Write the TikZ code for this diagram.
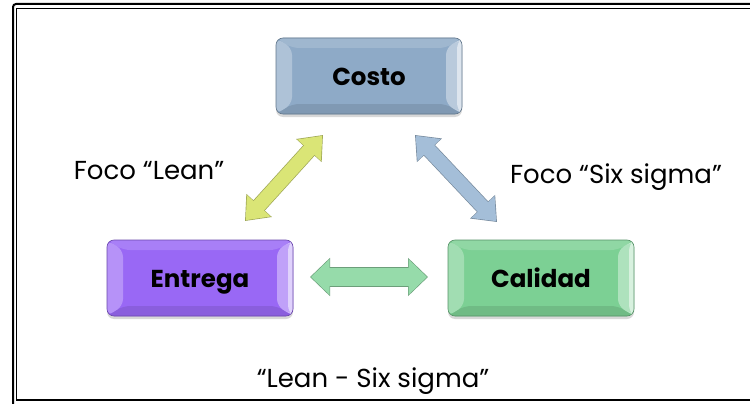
\documentclass[tikz,border=0pt]{standalone}
\usepackage{fontspec}
\setmainfont{Poppins}
\usetikzlibrary{arrows.meta,shadows,calc}

\definecolor{costoC}{RGB}{142,170,199}
\definecolor{entregaC}{RGB}{153,104,245}
\definecolor{calidadC}{RGB}{124,208,148}
\definecolor{yellowA}{RGB}{218,229,118}
\definecolor{blueA}{RGB}{164,190,216}
\definecolor{greenA}{RGB}{150,219,170}

\tikzset{
  bevelbox/.style={
    rounded corners=7pt, minimum width=186pt, minimum height=76pt,
    fill=#1, draw=#1!70!black, line width=0.6pt,
    font=\bfseries\fontsize{24.5}{28}\selectfont,
    text height=19pt, text depth=0pt,
    drop shadow={shadow xshift=0pt, shadow yshift=-3pt, opacity=0.3},
    path picture={
      \coordinate (nw) at (path picture bounding box.north west);
      \coordinate (ne) at (path picture bounding box.north east);
      \coordinate (sw) at (path picture bounding box.south west);
      \coordinate (se) at (path picture bounding box.south east);
      % top bevel
      \fill[#1!85!white] (nw) -- (ne) -- ($(ne)+(-16pt,-10pt)$) -- ($(nw)+(16pt,-10pt)$) -- cycle;
      % bottom bevel
      \fill[#1!90!black] (sw) -- (se) -- ($(se)+(-16pt,10pt)$) -- ($(sw)+(16pt,10pt)$) -- cycle;
      % left bevel
      \fill[#1!72!white] (nw) -- (sw) -- ($(sw)+(16pt,10pt)$) -- ($(nw)+(16pt,-10pt)$) -- cycle;
      % right bevel, with a bright highlight at the outer edge
      \fill[#1!62!white] (ne) -- (se) -- ($(se)+(-16pt,10pt)$) -- ($(ne)+(-16pt,-10pt)$) -- cycle;
      \fill[#1!30!white] (ne) -- (se) -- ($(se)+(-5pt,4pt)$) -- ($(ne)+(-5pt,-4pt)$) -- cycle;
    }},
  label text/.style={font=\fontsize{26}{30}\selectfont, inner sep=0pt},
  darrow edge/.style={draw=#1!72!black, line width=15.4pt,
    {Triangle[width=33pt,length=21pt]}-{Triangle[width=33pt,length=21pt]}},
  darrow fill/.style={draw=#1, line width=14pt, shorten <=1pt, shorten >=1pt,
    {Triangle[width=30.5pt,length=19.5pt]}-{Triangle[width=30.5pt,length=19.5pt]}},
  harrow edge/.style={draw=#1!72!black, line width=19.4pt,
    {Triangle[width=37pt,length=20pt]}-{Triangle[width=37pt,length=20pt]}},
  harrow fill/.style={draw=#1, line width=18pt, shorten <=1pt, shorten >=1pt,
    {Triangle[width=34.5pt,length=18.5pt]}-{Triangle[width=34.5pt,length=18.5pt]}},
  frame outer/.style={draw=black, line width=2pt, rounded corners=3pt},
  frame inner/.style={draw=black, line width=1.5pt},
}

\begin{document}
\begin{tikzpicture}[x=1pt,y=-1pt]
  \useasboundingbox (0,0) rectangle (750,404);
  \fill[white] (0,0) rectangle (750,404);

  % double frame
  \draw[frame outer] (13,4) rectangle (770,420);
  \draw[frame inner] (16.7,8.5) rectangle (765,400);

  % the three blocks
  \node[bevelbox=costoC]    (costo)   at (369,76)  {Costo};
  \node[bevelbox=entregaC]  (entrega) at (200,278) {Entrega};
  \node[bevelbox=calidadC]  (calidad) at (541,278) {Calidad};

  % arrow end points
  \coordinate (yA) at (245,221);
  \coordinate (yB) at (323,135);
  \coordinate (bA) at (415,135);
  \coordinate (bB) at (497,222);
  \coordinate (gA) at (310,277);
  \coordinate (gB) at (428,277);

  % double-headed block arrows
  \draw[darrow edge=yellowA] (yA) -- (yB);
  \draw[darrow fill=yellowA] (yA) -- (yB);
  \draw[darrow edge=blueA] (bA) -- (bB);
  \draw[darrow fill=blueA] (bA) -- (bB);
  \draw[harrow edge=greenA] (gA) -- (gB);
  \draw[harrow fill=greenA] (gA) -- (gB);

  % captions
  \node[label text] (lean)  at (149,171) {Foco “Lean”};
  \node[label text] (six)   at (616,177) {Foco “Six sigma”};
  \node[label text] (both)  at (373,381) {“Lean - Six sigma”};
\end{tikzpicture}
\end{document}
